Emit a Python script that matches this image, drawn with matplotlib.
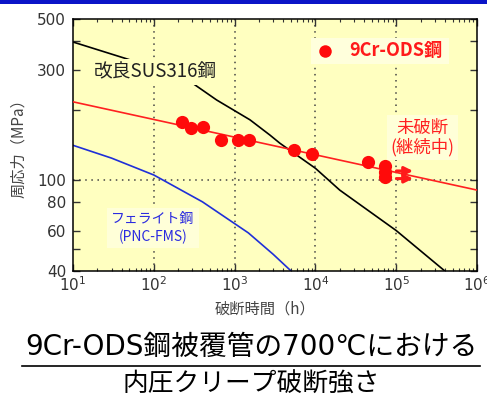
import numpy as np
import matplotlib
matplotlib.use("Agg")
import matplotlib.pyplot as plt
from matplotlib.ticker import FixedLocator, NullFormatter, LogLocator
from matplotlib.lines import Line2D
from matplotlib.patches import Rectangle

plt.rcParams['font.family'] = ['DejaVu Sans', 'Noto Sans CJK JP']
JP = ['Noto Sans CJK JP', 'DejaVu Sans']
MIX = ['DejaVu Sans', 'Noto Sans CJK JP']

# data ---
# 9Cr-ODS test points (hours, MPa)
ods_time = [221, 286, 410, 679, 1091, 1521, 5430, 8990, 45200, 72600, 72600, 72600]
ods_stress = [178, 167, 169, 149, 149, 149, 134, 129, 119, 115, 108, 103]

# 9Cr-ODS trend line
ods_fit_time = [10, 1e6]
ods_fit_stress = [218, 90]

# improved SUS316 curve
sus_time = [10, 55, 300, 600, 1550, 2750, 3630, 10000, 20000, 100000, 400000]
sus_stress = [397, 329, 263, 222, 182, 156, 144, 112, 90, 60, 40]

# ferritic steel (PNC-FMS) curve
fms_time = [10, 30, 100, 400, 1480, 3000, 5000]
fms_stress = [141, 124, 104.7, 80, 58.6, 47.3, 40]

# legend marker position
legend_pt = (13150, 363)

y_ticks = [40, 50, 60, 80, 100, 200, 300, 400, 500]
y_labels = ['40', '', '60', '80', '100', '', '300', '', '500']

# figure ---
fig = plt.figure(figsize=(4.87, 3.99), dpi=100)
W, H = 487, 399
ax = fig.add_axes([73 / W, 1 - 271 / H, 404 / W, 252 / H])
ax.set_facecolor('#ffffc0')
ax.set_xscale('log')
ax.set_yscale('log')
ax.set_xlim(10, 1e6)
ax.set_ylim(40, 500)

# grid lines (dotted)
for xv in [1e2, 1e3, 1e4, 1e5]:
    ax.axvline(xv, color='#444444', linestyle=(0, (1, 3)), lw=1.1, zorder=1)
ax.axhline(100, color='#444444', linestyle=(0, (1, 3)), lw=1.1, zorder=1)

# curves
ax.plot(sus_time, sus_stress, color='black', lw=1.2, zorder=2)
ax.plot(fms_time, fms_stress, color='#1f2fd8', lw=1.2, zorder=2)
ax.plot(ods_fit_time, ods_fit_stress, color='#ff2020', lw=1.2, zorder=3)
ax.plot(ods_time, ods_stress, 'o', color='#ff0a0a', markersize=9.5, mec='none', zorder=4)

# texts
ax.text(103, 294, '改良SUS316鋼', family=JP, fontsize=13.5, color='#222222',
        ha='center', va='center', zorder=3,
        bbox=dict(boxstyle='square,pad=0.15', fc='#ffffc0', ec='none'))
ax.text(98, 61.5, 'フェライト鋼\n(PNC-FMS)', family=JP, fontsize=10, color='#2a2ae0',
        ha='center', va='center', linespacing=1.3, zorder=3,
        bbox=dict(boxstyle='square,pad=0.3', fc='#ffffd8', ec='none'))
ax.text(2.1e5, 152, '未破断\n(継続中)', family=JP, fontsize=12.5, color='#ff2020',
        ha='center', va='center', linespacing=1.1, zorder=3,
        bbox=dict(boxstyle='square,pad=0.2', fc='#ffffd8', ec='none'))

# legend-like label
ax.add_patch(Rectangle((0.59, 0.82), 0.34, 0.105, transform=ax.transAxes,
                       fc='#ffffdc', ec='none', zorder=2))
ax.plot([legend_pt[0]], [legend_pt[1]], 'o', color='#ff0a0a', markersize=9, mec='none', zorder=4)
ax.text(2.6e4, 363, '9Cr-ODS鋼', family=JP, fontsize=13, fontweight='bold',
        color='#ff1a1a', ha='left', va='center', zorder=4)

# arrows for unbroken specimens
for ya in [109, 101]:
    ax.annotate('', xy=(1.75e5, ya), xytext=(9.3e4, ya),
                arrowprops=dict(arrowstyle='-|>,head_length=0.5,head_width=0.25',
                                color='#ff1a1a', lw=2.2), zorder=5)

# ticks
ax.yaxis.set_major_locator(FixedLocator(y_ticks))
ax.set_yticklabels(y_labels)
ax.yaxis.set_minor_locator(FixedLocator([]))
ax.xaxis.set_major_locator(LogLocator(base=10, numticks=10))
ax.xaxis.set_minor_locator(LogLocator(base=10, subs=np.arange(2, 10), numticks=10))
ax.xaxis.set_minor_formatter(NullFormatter())
ax.tick_params(which='both', direction='in', top=True, right=True,
               labelsize=11, labelcolor='#333333', color='#333333')
ax.tick_params(which='major', length=5, width=1)
ax.tick_params(which='minor', length=2.5, width=0.8)
ax.tick_params(axis='y', pad=5)
ax.tick_params(axis='x', pad=3)
for s in ax.spines.values():
    s.set_linewidth(1.1)

fig.text(19 / W, 1 - 145 / H, '周応力（MPa）', family=JP, fontsize=11,
         color='#444444', ha='center', va='center', rotation=90)
fig.text(265 / W, 1 - 309 / H, '破断時間（h）', family=JP, fontsize=11,
         color='#444444', ha='center', va='center')

# top blue bar
fig.patches.append(Rectangle((0, 1 - 3.5 / H), 1, 3.5 / H, transform=fig.transFigure,
                             fc='#0a14c8', ec='none'))

# caption
fig.text(251 / W, 1 - 347 / H, '9Cr-ODS鋼被覆管の700℃における', family=MIX,
         fontsize=20, color='black', ha='center', va='center')
fig.lines.append(Line2D([22 / W, 480 / W], [1 - 366 / H, 1 - 366 / H],
                        transform=fig.transFigure, color='black', lw=1.2))
fig.text(251 / W, 1 - 385 / H, '内圧クリープ破断強さ', family=JP,
         fontsize=18.5, color='black', ha='center', va='center')

fig.savefig('out.png', dpi=100)
